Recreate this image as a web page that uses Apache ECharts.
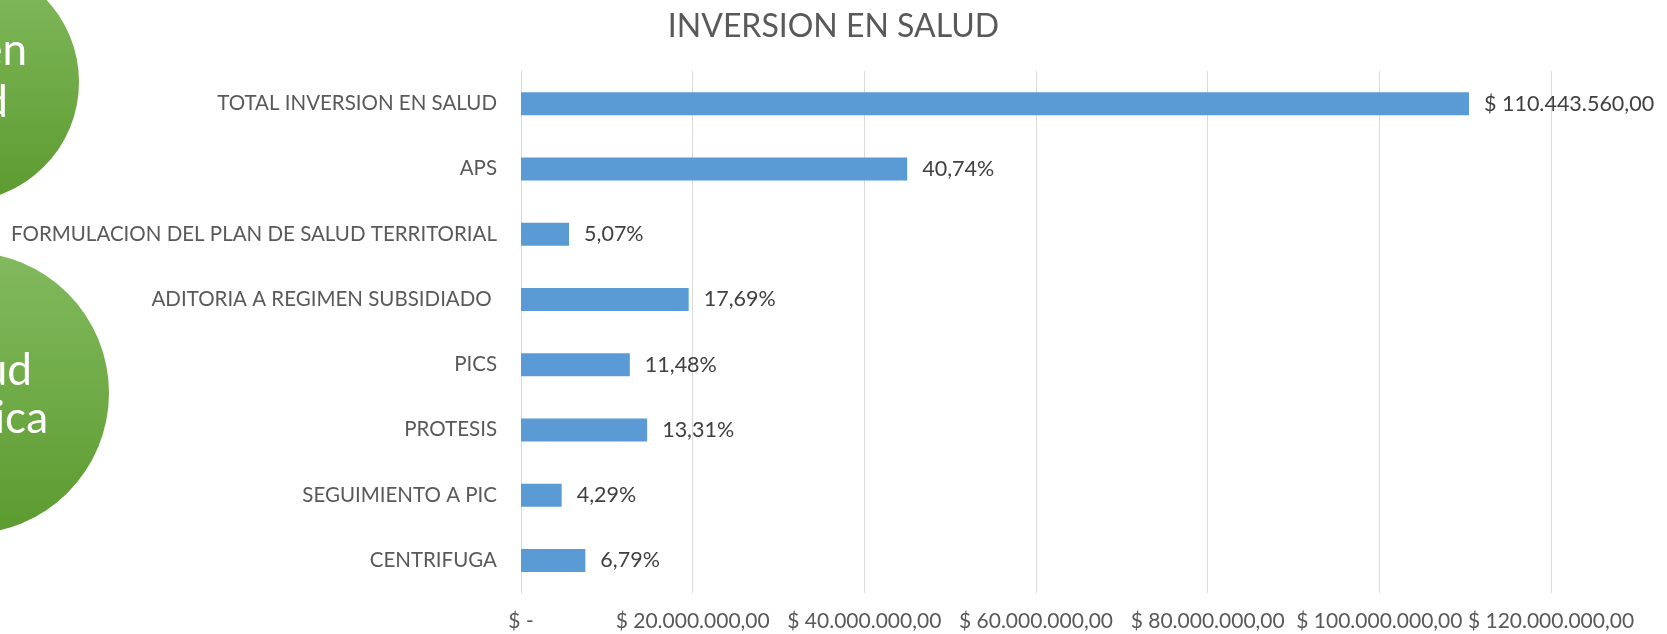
<!DOCTYPE html>
<html>
<head>
<meta charset="utf-8">
<script src="https://cdn.jsdelivr.net/npm/echarts@6/dist/echarts.min.js"></script>
<style>
	html, body { margin: 0; padding: 0; background: #fff; }
	#inversionChart { width: 1667px; height: 634px; }
</style>
</head>
<body>
<div id="inversionChart"></div>
<script>
// categories, top to bottom
var categories = [
	'TOTAL INVERSION EN SALUD',
	'APS',
	'FORMULACION DEL PLAN DE SALUD TERRITORIAL',
	'ADITORIA A REGIMEN SUBSIDIADO ',
	'PICS',
	'PROTESIS',
	'SEGUIMIENTO A PIC',
	'CENTRIFUGA'
];
// amounts in pesos
var amounts = [110443560, 44994706, 5599488, 19537466, 12678921, 14700038, 4738029, 7499118];
// share of the total shown as label (first bar shows the amount)
var shares = [null, 40.74, 5.07, 17.69, 11.48, 13.31, 4.29, 6.79];
// value axis ticks
var xTicks = [0, 20000000, 40000000, 60000000, 80000000, 100000000, 120000000];

function money(v) {
	var parts = v.toFixed(2).split('.');
	var ent = parts[0].replace(/\B(?=(\d{3})+(?!\d))/g, '.');
	return '$ ' + ent + ',' + parts[1];
}

function shareText(i) {
	if (shares[i] === null) return money(amounts[i]);
	return shares[i].toFixed(2).replace('.', ',') + '%';
}

var font = 'Lato';

var inversionChart = echarts.init(document.getElementById('inversionChart'));

var option = {
	animation: false,
	title: {
		text: 'INVERSION EN SALUD',
		left: 'center',
		top: 6,
		textStyle: {
			fontFamily: font,
			fontSize: 32,
			fontWeight: 'normal',
			color: '#595959'
		}
	},
	grid: {
		left: 521,
		right: 116,
		top: 71,
		bottom: 41,
		containLabel: false,
		outerBoundsMode: 'none'
	},
	xAxis: {
		type: 'value',
		min: xTicks[0],
		max: xTicks[xTicks.length - 1],
		interval: xTicks[1] - xTicks[0],
		axisLine: { show: false },
		axisTick: { show: false },
		splitLine: { lineStyle: { color: '#d9d9d9', width: 1 } },
		axisLabel: {
			margin: 18,
			showMinLabel: true,
			showMaxLabel: true,
			hideOverlap: false,
			fontFamily: font,
			fontSize: 21,
			color: '#595959',
			formatter: function (v) {
				return v === 0 ? '$ -' : money(v);
			}
		}
	},
	yAxis: {
		type: 'category',
		inverse: true,
		data: categories,
		axisLine: { lineStyle: { color: '#d9d9d9', width: 1 } },
		axisTick: { show: false },
		axisLabel: {
			margin: 24,
			fontFamily: font,
			fontSize: 20.5,
			color: '#595959'
		}
	},
	series: [
		{
			type: 'bar',
			data: amounts,
			barWidth: 23,
			itemStyle: { color: '#5b9bd5' },
			label: {
				show: true,
				position: 'right',
				distance: 15,
				fontFamily: font,
				fontSize: 21.5,
				color: '#404040',
				formatter: function (p) {
					return shareText(p.dataIndex);
				}
			}
		}
	],
	graphic: [
		{
			type: 'circle',
			shape: { cx: -41, cy: 82, r: 120 },
			style: {
				fill: new echarts.graphic.LinearGradient(0, 0, 0, 1, [
					{ offset: 0, color: '#82ba5e' },
					{ offset: 1, color: '#5c9b2f' }
				])
			}
		},
		{
			type: 'circle',
			shape: { cx: -32, cy: 393, r: 141 },
			style: {
				fill: new echarts.graphic.LinearGradient(0, 0, 0, 1, [
					{ offset: 0, color: '#82ba5e' },
					{ offset: 1, color: '#5c9b2f' }
				])
			}
		},
		{ type: 'text', x: 27, y: 51, style: { text: 'en', fill: '#fff', font: '44px Lato', align: 'right', verticalAlign: 'middle' } },
		{ type: 'text', x: 8, y: 103, style: { text: 'd', fill: '#fff', font: '44px Lato', align: 'right', verticalAlign: 'middle' } },
		{ type: 'text', x: 32, y: 371, style: { text: 'ud', fill: '#fff', font: '44px Lato', align: 'right', verticalAlign: 'middle' } },
		{ type: 'text', x: 48, y: 419, style: { text: 'ica', fill: '#fff', font: '44px Lato', align: 'right', verticalAlign: 'middle' } }
	]
};

inversionChart.setOption(option);
</script>
</body>
</html>
